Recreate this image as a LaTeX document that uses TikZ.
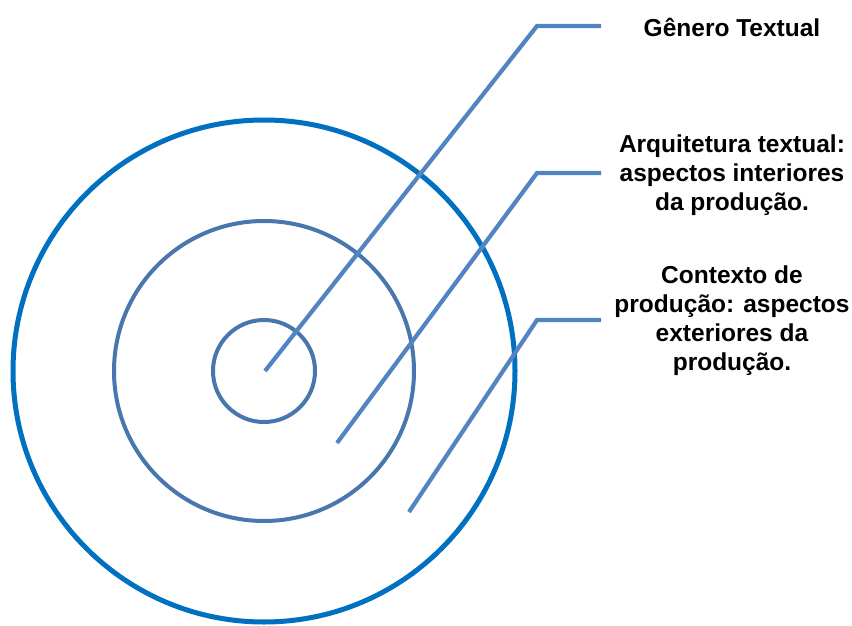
\documentclass[tikz,border=0pt]{standalone}
\usepackage{fontspec}
\setmainfont{Liberation Sans}
\usepackage{tikz}
\usetikzlibrary{positioning, calc}

\definecolor{outerblue}{HTML}{0070C0}
\definecolor{ringblue}{HTML}{4A76AE}
\definecolor{leadblue}{HTML}{5384C2}

\tikzset{
  ring/.style={draw=ringblue, line width=4pt},
  leader/.style={draw=leadblue, line width=4.2pt},
  label/.style={font=\fontsize{24.5}{29}\selectfont\bfseries, align=center, inner sep=0pt}
}

\begin{document}
\begin{tikzpicture}[x=1pt, y=-1pt]
    \useasboundingbox (0,0) rectangle (852,626);
    \coordinate (c) at (264,371);
    % circles
    \draw[draw=outerblue, line width=5pt] (c) circle[radius=251];
    \foreach \r in {150,51} {
      \draw[ring] (c) circle[radius=\r];
    }
    % labels
    \node[label] (genero) at (732,27) {Gênero Textual};
    \node[label] (arq) at (732,175) {Arquitetura textual:\\aspectos interiores\\da produção.};
    \node[label] (ctx) at (732,321) {Contexto de\\produção: aspectos\\exteriores da\\produção.};
    % leader lines
    \coordinate (s1) at (265,371);
    \coordinate (b1) at (537,26);
    \coordinate (e1) at (601,26);
    \coordinate (s2) at (337,443);
    \coordinate (b2) at (537,173);
    \coordinate (e2) at (601,173);
    \coordinate (s3) at (409,512);
    \coordinate (b3) at (537,320);
    \coordinate (e3) at (601,320);
    \foreach \i in {1,2,3} {
      \draw[leader] (s\i) -- (b\i) -- (e\i);
    }
\end{tikzpicture}
\end{document}
